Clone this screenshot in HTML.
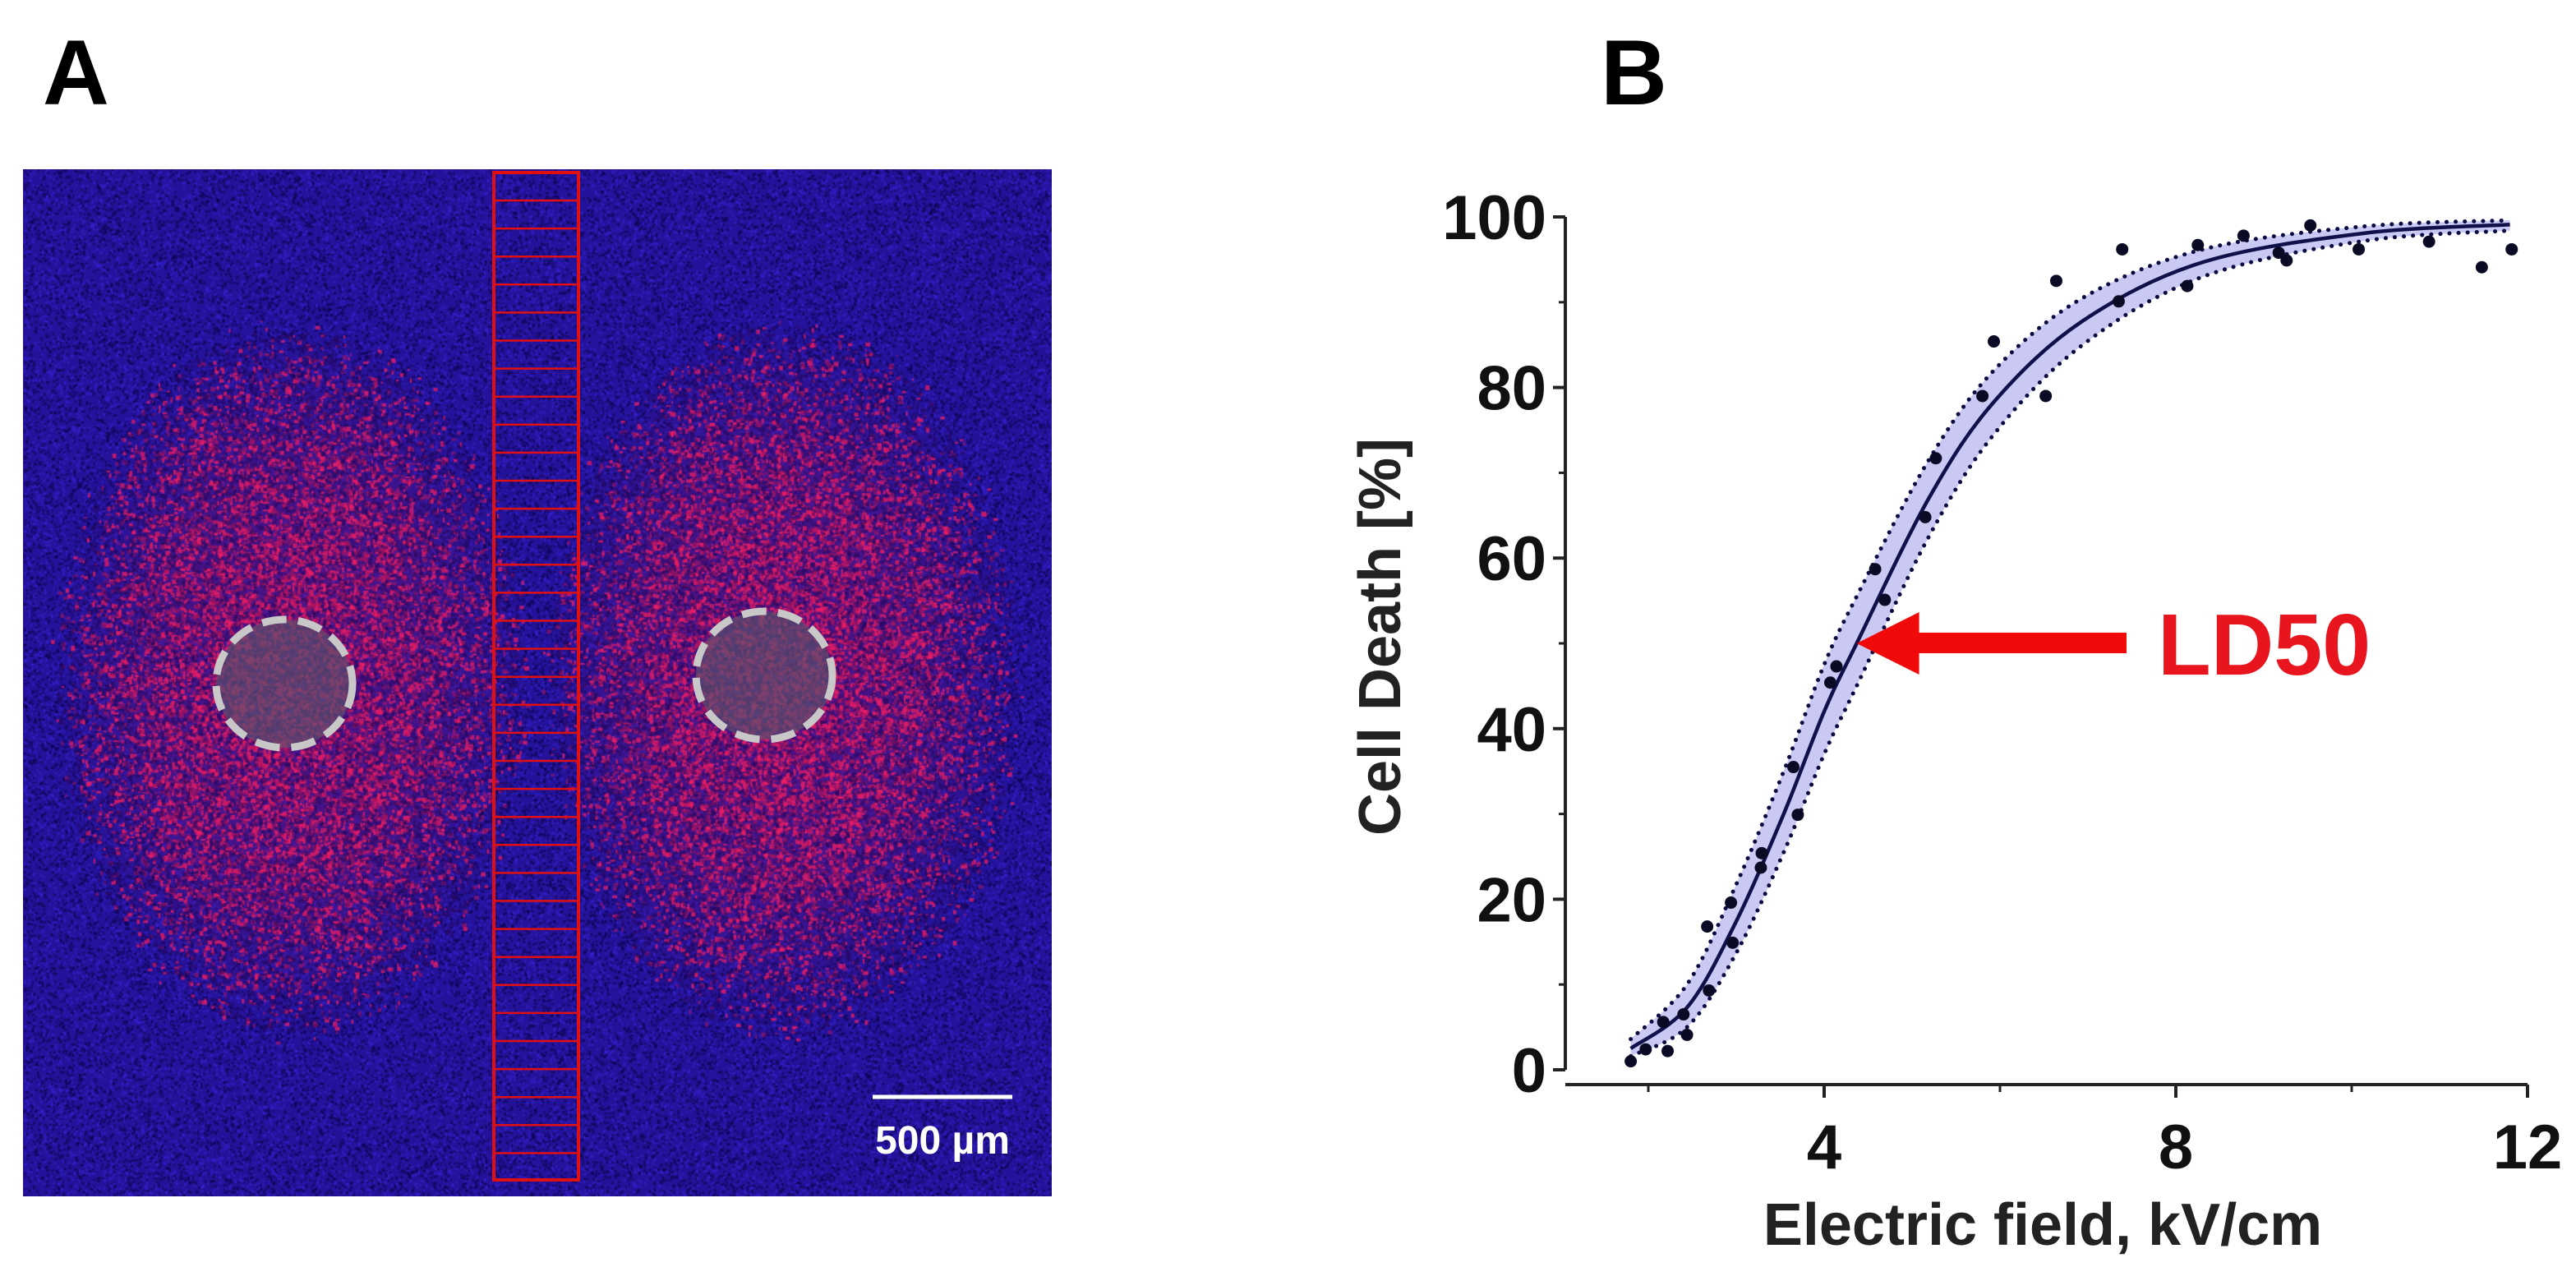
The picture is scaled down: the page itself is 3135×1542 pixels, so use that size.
<!DOCTYPE html>
<html><head><meta charset="utf-8"><style>
html,body{margin:0;padding:0;background:#fff;width:3135px;height:1542px;overflow:hidden}
#root{position:relative;width:3135px;height:1542px}
svg{position:absolute;left:0;top:0}
text{font-family:"Liberation Sans",Arial,sans-serif;font-weight:bold}
</style></head><body>
<div id="root">
<canvas id="micro" width="1252" height="1250" style="position:absolute;left:28px;top:206px"></canvas>
<svg id="svgA" width="3135" height="1542">
  <text x="52" y="127" font-size="112" fill="#000">A</text>
  <g id="column"></g>
  <ellipse cx="346" cy="832" rx="83" ry="78" fill="rgba(90,80,110,0.7)" stroke="#c8c8c8" stroke-width="9" stroke-dasharray="30 14"/>
  <ellipse cx="930" cy="822" rx="83" ry="78" fill="rgba(90,80,110,0.7)" stroke="#c8c8c8" stroke-width="9" stroke-dasharray="30 14"/>
  <line x1="1062" y1="1335" x2="1232" y2="1335" stroke="#fff" stroke-width="5"/>
  <text x="1147" y="1404" font-size="48" fill="#fff" text-anchor="middle">500 µm</text>
</svg>
<svg id="chart" width="3135" height="1542">
  <text x="1948" y="127" font-size="112" fill="#000">B</text>
</svg>
</div>
<script>
// ---- Chart data ----
const xTicks=[4,8,12];
const xMinor=[2,6,10];
const yTicks=[0,20,40,60,80,100];
const yMinor=[10,30,50,70,90];
const ptX=[1.80,1.97,2.17,2.22,2.40,2.44,2.67,2.69,2.94,2.96,3.29,3.28,3.65,3.70,4.07,4.14,4.58,4.69,5.15,5.27,5.80,5.93,6.52,6.64,7.35,7.39,8.13,8.25,8.77,9.17,9.26,9.53,10.08,10.88,11.48,11.82];
const ptY=[1.0,2.4,5.6,2.2,6.5,4.1,16.8,9.3,19.6,14.9,25.4,23.7,35.5,29.9,45.4,47.3,58.7,55.1,64.8,71.7,79.0,85.4,79.0,92.5,90.1,96.2,91.9,96.7,97.8,95.8,94.9,99.0,96.2,97.1,94.1,96.2];
const fitX=[1.8,2.44,2.99,3.54,4.0,4.37,5.19,5.93,6.94,8.31,10.15,11.8];
const fitMean=[2.5,7.3,17.2,30,42,50,67,78.3,87.8,94.7,98.1,99.1];
const fitUpper=[3.6,10,21.5,35,47.5,55.5,71.5,82,90.5,96.2,98.9,99.6];
const fitLower=[1.6,5,13.5,25.5,37,45,62.5,74.5,85,93,97.2,98.4];
const ld50=[4.37,50];

const NS="http://www.w3.org/2000/svg";
const X0=1899,X1=3076,XMIN=1,XMAX=12;
const Y0=1302,Y1=264;
const sx=v=>X0+(v-XMIN)/(XMAX-XMIN)*(X1-X0);
const sy=v=>Y0-(v/100)*(Y0-Y1);
const chart=document.getElementById('chart');
function mk(tag,attrs,parent){const e=document.createElementNS(NS,tag);for(const k in attrs)e.setAttribute(k,attrs[k]);(parent||chart).appendChild(e);return e;}
function smooth(pts){let d=`M${pts[0][0]},${pts[0][1]}`;for(let i=0;i<pts.length-1;i++){const p0=pts[Math.max(0,i-1)],p1=pts[i],p2=pts[i+1],p3=pts[Math.min(pts.length-1,i+2)];const c1=[p1[0]+(p2[0]-p0[0])/6,p1[1]+(p2[1]-p0[1])/6],c2=[p2[0]-(p3[0]-p1[0])/6,p2[1]-(p3[1]-p1[1])/6];d+=` C${c1[0]},${c1[1]} ${c2[0]},${c2[1]} ${p2[0]},${p2[1]}`;}return d;}
const up=fitX.map((x,i)=>[sx(x),sy(fitUpper[i])]);
const lo=fitX.map((x,i)=>[sx(x),sy(fitLower[i])]);
const mean=fitX.map((x,i)=>[sx(x),sy(fitMean[i])]);
const loRev=lo.slice().reverse();
let bandD=smooth(up)+' L'+loRev[0][0]+','+loRev[0][1]+smooth(loRev).replace(/^M[^C]*/,' ')+' Z';
const band=mk('path',{d:bandD,fill:'#c9c9f3',stroke:'none'});


const ub=mk('path',{d:smooth(up),fill:'none',stroke:'#0a0a40','stroke-width':5,'stroke-dasharray':'0.1 11','stroke-linecap':'round'});


const lb=mk('path',{d:smooth(lo),fill:'none',stroke:'#0a0a40','stroke-width':5,'stroke-dasharray':'0.1 11','stroke-linecap':'round'});


const fl=mk('path',{d:smooth(mean),fill:'none',stroke:'#10104a','stroke-width':4.5});


ptX.forEach((x,i)=>{const c=mk('circle',{cx:sx(x),cy:sy(ptY[i]),r:7.5,fill:'#0a0a25'});

});
const ya=mk('line',{x1:1905,y1:Y1,x2:1905,y2:Y0,stroke:'#222','stroke-width':4});


const xa=mk('line',{x1:1905,y1:1320,x2:X1,y2:1320,stroke:'#222','stroke-width':4});


yTicks.forEach(v=>{const t=mk('line',{x1:1890,y1:sy(v),x2:1905,y2:sy(v),stroke:'#222','stroke-width':4});


const l=mk('text',{x:1882,y:sy(v)+27,'font-size':76,'text-anchor':'end',fill:'#111'});l.textContent=v;

});
yMinor.forEach(v=>{const t=mk('line',{x1:1897,y1:sy(v),x2:1905,y2:sy(v),stroke:'#222','stroke-width':3});

});
xTicks.forEach(v=>{const t=mk('line',{x1:sx(v),y1:1320,x2:sx(v),y2:1336,stroke:'#222','stroke-width':4});


const l=mk('text',{x:sx(v),y:1422,'font-size':76,'text-anchor':'middle',fill:'#111'});l.textContent=v;

});
xMinor.forEach(v=>{const t=mk('line',{x1:sx(v),y1:1320,x2:sx(v),y2:1329,stroke:'#222','stroke-width':3});

});
const xt=mk('text',{x:2486,y:1515,'font-size':72,'text-anchor':'middle',fill:'#222'});xt.textContent='Electric field, kV/cm';


const yt=mk('text',{x:0,y:0,'font-size':72,'text-anchor':'middle',fill:'#222',transform:'translate(1704,775) rotate(-90)'});yt.textContent='Cell Death [%]';


const tx=sx(ld50[0]),ty=sy(ld50[1]);
const ar=mk('path',{d:`M${tx},${ty} L${tx+76},${ty-38} L${tx+76},${ty-13} L2588,${ty-13} L2588,${ty+12} L${tx+76},${ty+12} L${tx+76},${ty+38} Z`,fill:'#f00a0a'});


const lt=mk('text',{x:2626,y:ty+38,'font-size':106,fill:'#e8141e'});lt.textContent='LD50';



const col=document.getElementById('column');
const cr=mk('rect',{x:601,y:210,width:103,height:1226,fill:'none',stroke:'#e01010','stroke-width':4},col);


for(let y=244;y<1436;y+=34.1){const l=mk('line',{x1:601,y1:y,x2:704,y2:y,stroke:'#e01010','stroke-width':2.5},col);

}

// ---- microscopy texture ----
const cv=document.getElementById('micro'),ctx=cv.getContext('2d');
ctx.fillStyle='#24139a';ctx.fillRect(0,0,1252,1250);
let s=987654321;
function rnd(){s|=0;s=s+0x6D2B79F5|0;let t=Math.imul(s^s>>>15,1|s);t=t+Math.imul(t^t>>>7,61|t)^t;return((t^t>>>14)>>>0)/4294967296;}
for(let i=0;i<90000;i++){const x=rnd()*1252,y=rnd()*1250;ctx.fillStyle=rnd()<0.55?'rgba(15,5,80,0.6)':'rgba(55,35,210,0.55)';ctx.fillRect(x,y,3,3);}
function haze(cx,cy,rx,ry){ctx.save();ctx.translate(cx,cy);ctx.scale(1,ry/rx);const g=ctx.createRadialGradient(0,0,0,0,0,rx);g.addColorStop(0,'rgba(120,20,110,0.5)');g.addColorStop(0.6,'rgba(110,20,110,0.4)');g.addColorStop(1,'rgba(100,20,120,0)');ctx.fillStyle=g;ctx.beginPath();ctx.arc(0,0,rx,0,Math.PI*2);ctx.fill();ctx.restore();}
haze(330,620,280,420);haze(920,620,280,420);
function inBlob(x,y){const a=((x-325)/260)**2+((y-620)/390)**2;const b=((x-925)/260)**2+((y-620)/395)**2;return Math.min(a,b);}
for(let i=0;i<110000;i++){const x=rnd()*1252,y=rnd()*1250;const d=inBlob(x,y);if(d<1.3&&rnd()>Math.pow(d/1.3,0.8)){ctx.fillStyle=rnd()<0.5?'rgba(235,30,100,0.75)':'rgba(170,20,95,0.6)';ctx.fillRect(x,y,2+rnd()*4,2+rnd()*4);}}
for(let i=0;i<25000;i++){const x=rnd()*1252,y=rnd()*1250;const d=inBlob(x,y);if(d<1.2){ctx.fillStyle='rgba(40,10,100,0.55)';ctx.fillRect(x,y,4,4);}}
</script>
</body></html>
